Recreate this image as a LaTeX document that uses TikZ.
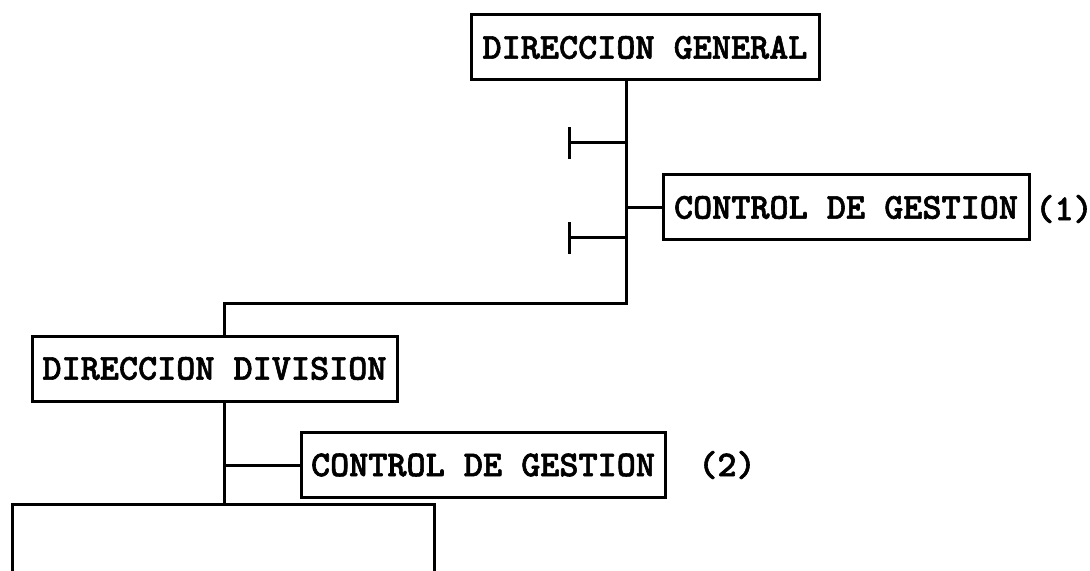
\documentclass[tikz,border=0pt]{standalone}
\usepackage{fontspec}
\newfontfamily\boxfont[FakeBold=1.6]{lmmonolt10-bold.otf}
\usetikzlibrary{arrows.meta}
\begin{document}
\begin{tikzpicture}[x=0.5pt,y=-0.5pt,
    box/.style={rectangle, draw, line width=1.5pt, minimum height=32.5pt, inner sep=0pt, font=\boxfont\fontsize{18.2pt}{21pt}\selectfont},
    link/.style={line width=1.5pt},
    stub/.style={line width=1.5pt, -{Bar[width=16pt,line width=1.5pt]}},
    note/.style={font=\boxfont\fontsize{18.2pt}{21pt}\selectfont},
]
\clip (0,0) rectangle (1090,571);
\node[box, minimum width=174pt] (DG) at (645,47.5) {DIRECCION GENERAL};
\node[box, minimum width=183pt] (CG1) at (846,207.5) {CONTROL DE GESTION};
\node[box, minimum width=182.5pt] (DD) at (214.5,368.5) {DIRECCION DIVISION};
\node[box, minimum width=182pt] (CG2) at (483,465) {CONTROL DE GESTION};
\node[box, minimum width=211pt, minimum height=50pt] (UN) at (223,554) {};
\node[note] (N1) at (1064,209) {(1)};
\node[note] (N2) at (727,465) {(2)};

\coordinate (T) at (626,303);
\coordinate (K) at (224,303);
\coordinate (S1) at (568,143);
\coordinate (S2) at (568,238);

\draw[link] (DG.south -| T) -- (T) -- (K) -- (K |- DD.north);
\draw[link] (T |- CG1.west) -- (CG1.west);
\draw[stub] (T |- S1) -- (S1);
\draw[stub] (T |- S2) -- (S2);
\draw[link] (K |- DD.south) -- (K |- UN.north);
\draw[link] (K |- CG2.west) -- (CG2.west);
\end{tikzpicture}
\end{document}
